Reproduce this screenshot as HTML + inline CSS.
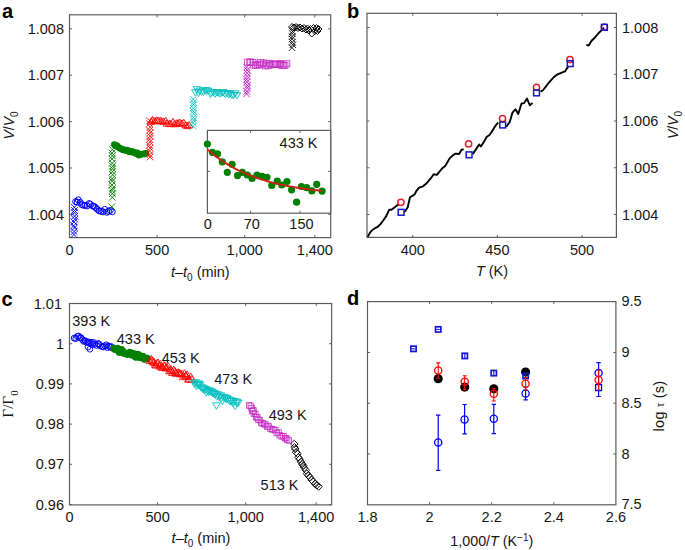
<!DOCTYPE html>
<html><head><meta charset="utf-8"><style>
html,body{margin:0;padding:0;background:#fff;}
svg{display:block;font-family:"Liberation Sans", sans-serif;}
</style></head><body>
<svg width="685" height="550" viewBox="0 0 685 550">
<rect width="685" height="550" fill="#fff"/>
<rect x="69.5" y="14.8" width="261.20" height="222.80" fill="none" stroke="#5c5c5c" stroke-width="1.2"/><path d="M157.11,237.6V235.1M157.11,14.8V17.3M244.71,237.6V235.1M244.71,14.8V17.3M314.79,237.6V235.1M314.79,14.8V17.3M69.5,214.40H72.0M330.7,214.40H328.2M69.5,168.00H72.0M330.7,168.00H328.2M69.5,121.60H72.0M330.7,121.60H328.2M69.5,75.20H72.0M330.7,75.20H328.2M69.5,28.80H72.0M330.7,28.80H328.2" stroke="#5c5c5c" stroke-width="1" fill="none"/>
<path d="M70.69,231.25L77.29,237.85M70.69,237.85L77.29,231.25" stroke="#0000ff" stroke-width="0.9" fill="none"/>
<path d="M70.84,228.27L77.44,234.87M70.84,234.87L77.44,228.27" stroke="#0000ff" stroke-width="0.9" fill="none"/>
<path d="M71.15,224.57L77.75,231.17M71.15,231.17L77.75,224.57" stroke="#0000ff" stroke-width="0.9" fill="none"/>
<path d="M70.42,222.44L77.02,229.04M70.42,229.04L77.02,222.44" stroke="#0000ff" stroke-width="0.9" fill="none"/>
<path d="M70.71,218.66L77.31,225.26M70.71,225.26L77.31,218.66" stroke="#0000ff" stroke-width="0.9" fill="none"/>
<path d="M71.59,215.89L78.19,222.49M71.59,222.49L78.19,215.89" stroke="#0000ff" stroke-width="0.9" fill="none"/>
<path d="M71.40,212.84L78.00,219.44M71.40,219.44L78.00,212.84" stroke="#0000ff" stroke-width="0.9" fill="none"/>
<path d="M71.17,209.39L77.77,215.99M71.17,215.99L77.77,209.39" stroke="#0000ff" stroke-width="0.9" fill="none"/>
<path d="M71.16,207.20L77.76,213.80M71.16,213.80L77.76,207.20" stroke="#0000ff" stroke-width="0.9" fill="none"/>
<path d="M71.03,203.99L77.63,210.59M71.03,210.59L77.63,203.99" stroke="#0000ff" stroke-width="0.9" fill="none"/>
<circle cx="75.64" cy="201.60" r="3.0" stroke="#0000ff" stroke-width="1.0" fill="none"/>
<circle cx="77.17" cy="202.12" r="3.0" stroke="#0000ff" stroke-width="1.0" fill="none"/>
<circle cx="78.27" cy="199.84" r="3.0" stroke="#0000ff" stroke-width="1.0" fill="none"/>
<circle cx="80.19" cy="202.43" r="3.0" stroke="#0000ff" stroke-width="1.0" fill="none"/>
<circle cx="81.72" cy="204.57" r="3.0" stroke="#0000ff" stroke-width="1.0" fill="none"/>
<circle cx="83.49" cy="205.32" r="3.0" stroke="#0000ff" stroke-width="1.0" fill="none"/>
<circle cx="85.07" cy="205.28" r="3.0" stroke="#0000ff" stroke-width="1.0" fill="none"/>
<circle cx="86.98" cy="205.90" r="3.0" stroke="#0000ff" stroke-width="1.0" fill="none"/>
<circle cx="89.18" cy="203.52" r="3.0" stroke="#0000ff" stroke-width="1.0" fill="none"/>
<circle cx="90.37" cy="204.42" r="3.0" stroke="#0000ff" stroke-width="1.0" fill="none"/>
<circle cx="92.71" cy="205.96" r="3.0" stroke="#0000ff" stroke-width="1.0" fill="none"/>
<circle cx="94.12" cy="206.37" r="3.0" stroke="#0000ff" stroke-width="1.0" fill="none"/>
<circle cx="95.65" cy="207.58" r="3.0" stroke="#0000ff" stroke-width="1.0" fill="none"/>
<circle cx="97.15" cy="209.15" r="3.0" stroke="#0000ff" stroke-width="1.0" fill="none"/>
<circle cx="99.08" cy="210.80" r="3.0" stroke="#0000ff" stroke-width="1.0" fill="none"/>
<circle cx="101.00" cy="211.24" r="3.0" stroke="#0000ff" stroke-width="1.0" fill="none"/>
<circle cx="102.98" cy="211.81" r="3.0" stroke="#0000ff" stroke-width="1.0" fill="none"/>
<circle cx="104.69" cy="209.44" r="3.0" stroke="#0000ff" stroke-width="1.0" fill="none"/>
<circle cx="106.70" cy="212.26" r="3.0" stroke="#0000ff" stroke-width="1.0" fill="none"/>
<circle cx="108.60" cy="211.26" r="3.0" stroke="#0000ff" stroke-width="1.0" fill="none"/>
<circle cx="110.31" cy="210.34" r="3.0" stroke="#0000ff" stroke-width="1.0" fill="none"/>
<circle cx="112.27" cy="211.74" r="3.0" stroke="#0000ff" stroke-width="1.0" fill="none"/>
<path d="M108.78,187.26L115.38,193.86M108.78,193.86L115.38,187.26" stroke="#008000" stroke-width="0.9" fill="none"/>
<path d="M109.35,185.04L115.95,191.64M109.35,191.64L115.95,185.04" stroke="#008000" stroke-width="0.9" fill="none"/>
<path d="M108.59,181.69L115.19,188.29M108.59,188.29L115.19,181.69" stroke="#008000" stroke-width="0.9" fill="none"/>
<path d="M108.91,177.89L115.51,184.49M108.91,184.49L115.51,177.89" stroke="#008000" stroke-width="0.9" fill="none"/>
<path d="M108.79,175.35L115.39,181.95M108.79,181.95L115.39,175.35" stroke="#008000" stroke-width="0.9" fill="none"/>
<path d="M109.37,171.47L115.97,178.07M109.37,178.07L115.97,171.47" stroke="#008000" stroke-width="0.9" fill="none"/>
<path d="M109.11,168.32L115.71,174.92M109.11,174.92L115.71,168.32" stroke="#008000" stroke-width="0.9" fill="none"/>
<path d="M109.22,165.45L115.82,172.05M109.22,172.05L115.82,165.45" stroke="#008000" stroke-width="0.9" fill="none"/>
<path d="M109.38,162.95L115.98,169.55M109.38,169.55L115.98,162.95" stroke="#008000" stroke-width="0.9" fill="none"/>
<path d="M109.01,159.81L115.61,166.41M109.01,166.41L115.61,159.81" stroke="#008000" stroke-width="0.9" fill="none"/>
<path d="M108.81,155.74L115.41,162.34M108.81,162.34L115.41,155.74" stroke="#008000" stroke-width="0.9" fill="none"/>
<path d="M109.10,152.54L115.70,159.14M109.10,159.14L115.70,152.54" stroke="#008000" stroke-width="0.9" fill="none"/>
<path d="M108.70,149.76L115.30,156.36M108.70,156.36L115.30,149.76" stroke="#008000" stroke-width="0.9" fill="none"/>
<path d="M109.11,146.36L115.71,152.96M109.11,152.96L115.71,146.36" stroke="#008000" stroke-width="0.9" fill="none"/>
<path d="M109.00,190.30L115.60,196.90M109.00,196.90L115.60,190.30" stroke="#008000" stroke-width="0.9" fill="none"/>
<path d="M109.00,194.00L115.60,200.60M109.00,200.60L115.60,194.00" stroke="#008000" stroke-width="0.9" fill="none"/>
<path d="M108.50,203.50L115.10,210.10M108.50,210.10L115.10,203.50" stroke="#008000" stroke-width="0.9" fill="none"/>
<circle cx="114.32" cy="144.54" r="3.3" fill="#008000"/>
<circle cx="115.48" cy="145.78" r="3.3" fill="#008000"/>
<circle cx="116.78" cy="145.67" r="3.3" fill="#008000"/>
<circle cx="117.80" cy="146.83" r="3.3" fill="#008000"/>
<circle cx="119.15" cy="147.76" r="3.3" fill="#008000"/>
<circle cx="120.41" cy="148.58" r="3.3" fill="#008000"/>
<circle cx="121.92" cy="148.98" r="3.3" fill="#008000"/>
<circle cx="123.07" cy="150.03" r="3.3" fill="#008000"/>
<circle cx="124.38" cy="149.75" r="3.3" fill="#008000"/>
<circle cx="126.11" cy="150.63" r="3.3" fill="#008000"/>
<circle cx="127.37" cy="150.05" r="3.3" fill="#008000"/>
<circle cx="128.75" cy="151.59" r="3.3" fill="#008000"/>
<circle cx="130.05" cy="152.03" r="3.3" fill="#008000"/>
<circle cx="131.75" cy="151.27" r="3.3" fill="#008000"/>
<circle cx="133.20" cy="152.41" r="3.3" fill="#008000"/>
<circle cx="134.69" cy="152.51" r="3.3" fill="#008000"/>
<circle cx="136.13" cy="153.70" r="3.3" fill="#008000"/>
<circle cx="137.25" cy="152.90" r="3.3" fill="#008000"/>
<circle cx="138.90" cy="155.25" r="3.3" fill="#008000"/>
<circle cx="140.13" cy="154.77" r="3.3" fill="#008000"/>
<circle cx="141.68" cy="154.29" r="3.3" fill="#008000"/>
<circle cx="143.01" cy="153.81" r="3.3" fill="#008000"/>
<circle cx="144.48" cy="154.08" r="3.3" fill="#008000"/>
<circle cx="145.92" cy="153.35" r="3.3" fill="#008000"/>
<path d="M146.77,153.73L153.37,160.33M146.77,160.33L153.37,153.73" stroke="#ff0000" stroke-width="0.85" fill="none"/>
<path d="M146.57,151.39L153.17,157.99M146.57,157.99L153.17,151.39" stroke="#ff0000" stroke-width="0.85" fill="none"/>
<path d="M146.31,147.84L152.91,154.44M146.31,154.44L152.91,147.84" stroke="#ff0000" stroke-width="0.85" fill="none"/>
<path d="M146.80,144.81L153.40,151.41M146.80,151.41L153.40,144.81" stroke="#ff0000" stroke-width="0.85" fill="none"/>
<path d="M146.19,141.97L152.79,148.57M146.19,148.57L152.79,141.97" stroke="#ff0000" stroke-width="0.85" fill="none"/>
<path d="M146.70,138.59L153.30,145.19M146.70,145.19L153.30,138.59" stroke="#ff0000" stroke-width="0.85" fill="none"/>
<path d="M146.32,135.78L152.92,142.38M146.32,142.38L152.92,135.78" stroke="#ff0000" stroke-width="0.85" fill="none"/>
<path d="M146.83,132.85L153.43,139.45M146.83,139.45L153.43,132.85" stroke="#ff0000" stroke-width="0.85" fill="none"/>
<path d="M146.86,129.54L153.46,136.14M146.86,136.14L153.46,129.54" stroke="#ff0000" stroke-width="0.85" fill="none"/>
<path d="M146.34,126.98L152.94,133.58M146.34,133.58L152.94,126.98" stroke="#ff0000" stroke-width="0.85" fill="none"/>
<path d="M146.88,123.73L153.48,130.33M146.88,130.33L153.48,123.73" stroke="#ff0000" stroke-width="0.85" fill="none"/>
<path d="M146.23,120.36L152.83,126.96M146.23,126.96L152.83,120.36" stroke="#ff0000" stroke-width="0.85" fill="none"/>
<path d="M146.53,117.39L153.13,123.99M146.53,123.99L153.13,117.39" stroke="#ff0000" stroke-width="0.85" fill="none"/>
<path d="M151.18,117.82L154.88,124.11L147.48,124.11Z" stroke="#ff0000" stroke-width="0.9" fill="none"/>
<path d="M152.62,116.34L156.32,122.63L148.92,122.63Z" stroke="#ff0000" stroke-width="0.9" fill="none"/>
<path d="M154.81,117.63L158.51,123.92L151.11,123.92Z" stroke="#ff0000" stroke-width="0.9" fill="none"/>
<path d="M156.62,116.94L160.32,123.23L152.92,123.23Z" stroke="#ff0000" stroke-width="0.9" fill="none"/>
<path d="M158.02,116.98L161.72,123.27L154.32,123.27Z" stroke="#ff0000" stroke-width="0.9" fill="none"/>
<path d="M160.23,117.12L163.93,123.41L156.53,123.41Z" stroke="#ff0000" stroke-width="0.9" fill="none"/>
<path d="M161.78,117.74L165.48,124.03L158.08,124.03Z" stroke="#ff0000" stroke-width="0.9" fill="none"/>
<path d="M163.64,117.90L167.34,124.19L159.94,124.19Z" stroke="#ff0000" stroke-width="0.9" fill="none"/>
<path d="M165.75,117.32L169.45,123.61L162.05,123.61Z" stroke="#ff0000" stroke-width="0.9" fill="none"/>
<path d="M167.01,119.86L170.71,126.15L163.31,126.15Z" stroke="#ff0000" stroke-width="0.9" fill="none"/>
<path d="M169.35,120.17L173.05,126.46L165.65,126.46Z" stroke="#ff0000" stroke-width="0.9" fill="none"/>
<path d="M170.89,120.29L174.59,126.58L167.19,126.58Z" stroke="#ff0000" stroke-width="0.9" fill="none"/>
<path d="M172.99,118.38L176.69,124.67L169.29,124.67Z" stroke="#ff0000" stroke-width="0.9" fill="none"/>
<path d="M174.68,120.49L178.38,126.78L170.98,126.78Z" stroke="#ff0000" stroke-width="0.9" fill="none"/>
<path d="M176.44,119.81L180.14,126.10L172.74,126.10Z" stroke="#ff0000" stroke-width="0.9" fill="none"/>
<path d="M178.01,119.54L181.71,125.83L174.31,125.83Z" stroke="#ff0000" stroke-width="0.9" fill="none"/>
<path d="M179.78,119.00L183.48,125.29L176.08,125.29Z" stroke="#ff0000" stroke-width="0.9" fill="none"/>
<path d="M181.81,119.86L185.51,126.15L178.11,126.15Z" stroke="#ff0000" stroke-width="0.9" fill="none"/>
<path d="M183.75,119.33L187.45,125.62L180.05,125.62Z" stroke="#ff0000" stroke-width="0.9" fill="none"/>
<path d="M185.62,121.48L189.32,127.77L181.92,127.77Z" stroke="#ff0000" stroke-width="0.9" fill="none"/>
<path d="M187.44,122.29L191.14,128.58L183.74,128.58Z" stroke="#ff0000" stroke-width="0.9" fill="none"/>
<path d="M189.24,121.53L192.94,127.82L185.54,127.82Z" stroke="#ff0000" stroke-width="0.9" fill="none"/>
<path d="M189.71,122.95L196.31,129.55M189.71,129.55L196.31,122.95" stroke="#00bfbf" stroke-width="0.85" fill="none"/>
<path d="M189.87,119.50L196.47,126.10M189.87,126.10L196.47,119.50" stroke="#00bfbf" stroke-width="0.85" fill="none"/>
<path d="M190.36,116.72L196.96,123.32M190.36,123.32L196.96,116.72" stroke="#00bfbf" stroke-width="0.85" fill="none"/>
<path d="M190.11,114.14L196.71,120.74M190.11,120.74L196.71,114.14" stroke="#00bfbf" stroke-width="0.85" fill="none"/>
<path d="M190.31,110.54L196.91,117.14M190.31,117.14L196.91,110.54" stroke="#00bfbf" stroke-width="0.85" fill="none"/>
<path d="M189.95,108.06L196.55,114.66M189.95,114.66L196.55,108.06" stroke="#00bfbf" stroke-width="0.85" fill="none"/>
<path d="M190.18,104.98L196.78,111.58M190.18,111.58L196.78,104.98" stroke="#00bfbf" stroke-width="0.85" fill="none"/>
<path d="M190.05,101.40L196.65,108.00M190.05,108.00L196.65,101.40" stroke="#00bfbf" stroke-width="0.85" fill="none"/>
<path d="M190.23,99.02L196.83,105.62M190.23,105.62L196.83,99.02" stroke="#00bfbf" stroke-width="0.85" fill="none"/>
<path d="M189.87,95.99L196.47,102.59M189.87,102.59L196.47,95.99" stroke="#00bfbf" stroke-width="0.85" fill="none"/>
<path d="M195.34,95.92L199.04,89.63L191.64,89.63Z" stroke="#00bfbf" stroke-width="0.85" fill="none"/>
<path d="M196.94,92.90L200.64,86.61L193.24,86.61Z" stroke="#00bfbf" stroke-width="0.85" fill="none"/>
<path d="M198.46,96.49L202.16,90.20L194.76,90.20Z" stroke="#00bfbf" stroke-width="0.85" fill="none"/>
<path d="M199.67,94.29L203.37,88.00L195.97,88.00Z" stroke="#00bfbf" stroke-width="0.85" fill="none"/>
<path d="M201.53,95.48L205.23,89.19L197.83,89.19Z" stroke="#00bfbf" stroke-width="0.85" fill="none"/>
<path d="M203.33,95.43L207.03,89.14L199.63,89.14Z" stroke="#00bfbf" stroke-width="0.85" fill="none"/>
<path d="M205.29,93.71L208.99,87.42L201.59,87.42Z" stroke="#00bfbf" stroke-width="0.85" fill="none"/>
<path d="M206.39,94.38L210.09,88.09L202.69,88.09Z" stroke="#00bfbf" stroke-width="0.85" fill="none"/>
<path d="M208.12,94.32L211.82,88.03L204.42,88.03Z" stroke="#00bfbf" stroke-width="0.85" fill="none"/>
<path d="M210.48,97.63L214.18,91.34L206.78,91.34Z" stroke="#00bfbf" stroke-width="0.85" fill="none"/>
<path d="M211.45,96.39L215.15,90.10L207.75,90.10Z" stroke="#00bfbf" stroke-width="0.85" fill="none"/>
<path d="M213.31,95.80L217.01,89.51L209.61,89.51Z" stroke="#00bfbf" stroke-width="0.85" fill="none"/>
<path d="M215.01,97.29L218.71,91.00L211.31,91.00Z" stroke="#00bfbf" stroke-width="0.85" fill="none"/>
<path d="M216.89,96.23L220.59,89.94L213.19,89.94Z" stroke="#00bfbf" stroke-width="0.85" fill="none"/>
<path d="M218.25,96.19L221.95,89.90L214.55,89.90Z" stroke="#00bfbf" stroke-width="0.85" fill="none"/>
<path d="M219.89,97.18L223.59,90.89L216.19,90.89Z" stroke="#00bfbf" stroke-width="0.85" fill="none"/>
<path d="M222.04,96.56L225.74,90.27L218.34,90.27Z" stroke="#00bfbf" stroke-width="0.85" fill="none"/>
<path d="M223.22,95.84L226.92,89.55L219.52,89.55Z" stroke="#00bfbf" stroke-width="0.85" fill="none"/>
<path d="M225.14,97.64L228.84,91.35L221.44,91.35Z" stroke="#00bfbf" stroke-width="0.85" fill="none"/>
<path d="M227.14,96.88L230.84,90.59L223.44,90.59Z" stroke="#00bfbf" stroke-width="0.85" fill="none"/>
<path d="M228.84,97.99L232.54,91.70L225.14,91.70Z" stroke="#00bfbf" stroke-width="0.85" fill="none"/>
<path d="M230.22,97.13L233.92,90.84L226.52,90.84Z" stroke="#00bfbf" stroke-width="0.85" fill="none"/>
<path d="M231.96,98.59L235.66,92.30L228.26,92.30Z" stroke="#00bfbf" stroke-width="0.85" fill="none"/>
<path d="M233.58,98.70L237.28,92.41L229.88,92.41Z" stroke="#00bfbf" stroke-width="0.85" fill="none"/>
<path d="M235.29,97.04L238.99,90.75L231.59,90.75Z" stroke="#00bfbf" stroke-width="0.85" fill="none"/>
<path d="M237.03,98.98L240.73,92.69L233.33,92.69Z" stroke="#00bfbf" stroke-width="0.85" fill="none"/>
<path d="M243.27,90.62L249.87,97.22M243.27,97.22L249.87,90.62" stroke="#bf00bf" stroke-width="0.85" fill="none"/>
<path d="M243.63,88.08L250.23,94.68M243.63,94.68L250.23,88.08" stroke="#bf00bf" stroke-width="0.85" fill="none"/>
<path d="M244.14,84.57L250.74,91.17M244.14,91.17L250.74,84.57" stroke="#bf00bf" stroke-width="0.85" fill="none"/>
<path d="M244.10,81.99L250.70,88.59M244.10,88.59L250.70,81.99" stroke="#bf00bf" stroke-width="0.85" fill="none"/>
<path d="M243.46,78.66L250.06,85.26M243.46,85.26L250.06,78.66" stroke="#bf00bf" stroke-width="0.85" fill="none"/>
<path d="M243.32,76.01L249.92,82.61M243.32,82.61L249.92,76.01" stroke="#bf00bf" stroke-width="0.85" fill="none"/>
<path d="M243.86,73.09L250.46,79.69M243.86,79.69L250.46,73.09" stroke="#bf00bf" stroke-width="0.85" fill="none"/>
<path d="M243.99,69.87L250.59,76.47M243.99,76.47L250.59,69.87" stroke="#bf00bf" stroke-width="0.85" fill="none"/>
<path d="M243.93,66.76L250.53,73.36M243.93,73.36L250.53,66.76" stroke="#bf00bf" stroke-width="0.85" fill="none"/>
<path d="M243.30,63.79L249.90,70.39M243.30,70.39L249.90,63.79" stroke="#bf00bf" stroke-width="0.85" fill="none"/>
<rect x="244.60" y="59.22" width="6.0" height="6.0" stroke="#c42cc4" stroke-width="0.8" fill="none"/>
<rect x="246.76" y="58.94" width="6.0" height="6.0" stroke="#c42cc4" stroke-width="0.8" fill="none"/>
<rect x="247.75" y="59.21" width="6.0" height="6.0" stroke="#c42cc4" stroke-width="0.8" fill="none"/>
<rect x="249.92" y="59.58" width="6.0" height="6.0" stroke="#c42cc4" stroke-width="0.8" fill="none"/>
<rect x="250.78" y="62.04" width="6.0" height="6.0" stroke="#c42cc4" stroke-width="0.8" fill="none"/>
<rect x="252.40" y="62.12" width="6.0" height="6.0" stroke="#c42cc4" stroke-width="0.8" fill="none"/>
<rect x="254.38" y="62.17" width="6.0" height="6.0" stroke="#c42cc4" stroke-width="0.8" fill="none"/>
<rect x="256.14" y="61.32" width="6.0" height="6.0" stroke="#c42cc4" stroke-width="0.8" fill="none"/>
<rect x="257.56" y="59.45" width="6.0" height="6.0" stroke="#c42cc4" stroke-width="0.8" fill="none"/>
<rect x="259.07" y="61.23" width="6.0" height="6.0" stroke="#c42cc4" stroke-width="0.8" fill="none"/>
<rect x="260.57" y="59.85" width="6.0" height="6.0" stroke="#c42cc4" stroke-width="0.8" fill="none"/>
<rect x="262.14" y="62.91" width="6.0" height="6.0" stroke="#c42cc4" stroke-width="0.8" fill="none"/>
<rect x="263.12" y="60.79" width="6.0" height="6.0" stroke="#c42cc4" stroke-width="0.8" fill="none"/>
<rect x="265.07" y="62.68" width="6.0" height="6.0" stroke="#c42cc4" stroke-width="0.8" fill="none"/>
<rect x="266.35" y="60.35" width="6.0" height="6.0" stroke="#c42cc4" stroke-width="0.8" fill="none"/>
<rect x="267.90" y="61.92" width="6.0" height="6.0" stroke="#c42cc4" stroke-width="0.8" fill="none"/>
<rect x="269.84" y="61.12" width="6.0" height="6.0" stroke="#c42cc4" stroke-width="0.8" fill="none"/>
<rect x="271.08" y="61.13" width="6.0" height="6.0" stroke="#c42cc4" stroke-width="0.8" fill="none"/>
<rect x="272.60" y="61.21" width="6.0" height="6.0" stroke="#c42cc4" stroke-width="0.8" fill="none"/>
<rect x="273.93" y="61.50" width="6.0" height="6.0" stroke="#c42cc4" stroke-width="0.8" fill="none"/>
<rect x="276.18" y="61.23" width="6.0" height="6.0" stroke="#c42cc4" stroke-width="0.8" fill="none"/>
<rect x="277.54" y="60.42" width="6.0" height="6.0" stroke="#c42cc4" stroke-width="0.8" fill="none"/>
<rect x="279.04" y="62.65" width="6.0" height="6.0" stroke="#c42cc4" stroke-width="0.8" fill="none"/>
<rect x="280.56" y="61.88" width="6.0" height="6.0" stroke="#c42cc4" stroke-width="0.8" fill="none"/>
<rect x="281.95" y="62.42" width="6.0" height="6.0" stroke="#c42cc4" stroke-width="0.8" fill="none"/>
<rect x="283.82" y="60.74" width="6.0" height="6.0" stroke="#c42cc4" stroke-width="0.8" fill="none"/>
<path d="M288.70,44.45L295.30,51.05M288.70,51.05L295.30,44.45" stroke="#000000" stroke-width="0.85" fill="none"/>
<path d="M289.52,41.47L296.12,48.07M289.52,48.07L296.12,41.47" stroke="#000000" stroke-width="0.85" fill="none"/>
<path d="M289.04,38.92L295.64,45.52M289.04,45.52L295.64,38.92" stroke="#000000" stroke-width="0.85" fill="none"/>
<path d="M288.79,35.72L295.39,42.32M288.79,42.32L295.39,35.72" stroke="#000000" stroke-width="0.85" fill="none"/>
<path d="M288.80,33.29L295.40,39.89M288.80,39.89L295.40,33.29" stroke="#000000" stroke-width="0.85" fill="none"/>
<path d="M288.91,30.18L295.51,36.78M288.91,36.78L295.51,30.18" stroke="#000000" stroke-width="0.85" fill="none"/>
<path d="M289.29,28.15L295.89,34.75M289.29,34.75L295.89,28.15" stroke="#000000" stroke-width="0.85" fill="none"/>
<path d="M292.00,23.50L295.50,27.00L292.00,30.50L288.50,27.00Z" stroke="#000000" stroke-width="0.95" fill="none"/>
<path d="M294.00,24.00L297.50,27.50L294.00,31.00L290.50,27.50Z" stroke="#000000" stroke-width="0.95" fill="none"/>
<path d="M296.00,23.50L299.50,27.00L296.00,30.50L292.50,27.00Z" stroke="#000000" stroke-width="0.95" fill="none"/>
<path d="M298.00,24.50L301.50,28.00L298.00,31.50L294.50,28.00Z" stroke="#000000" stroke-width="0.95" fill="none"/>
<path d="M300.00,24.00L303.50,27.50L300.00,31.00L296.50,27.50Z" stroke="#000000" stroke-width="0.95" fill="none"/>
<path d="M302.00,25.00L305.50,28.50L302.00,32.00L298.50,28.50Z" stroke="#000000" stroke-width="0.95" fill="none"/>
<path d="M304.00,24.50L307.50,28.00L304.00,31.50L300.50,28.00Z" stroke="#000000" stroke-width="0.95" fill="none"/>
<path d="M306.00,26.00L309.50,29.50L306.00,33.00L302.50,29.50Z" stroke="#000000" stroke-width="0.95" fill="none"/>
<path d="M307.50,25.00L311.00,28.50L307.50,32.00L304.00,28.50Z" stroke="#000000" stroke-width="0.95" fill="none"/>
<path d="M309.00,27.00L312.50,30.50L309.00,34.00L305.50,30.50Z" stroke="#000000" stroke-width="0.95" fill="none"/>
<path d="M310.50,25.50L314.00,29.00L310.50,32.50L307.00,29.00Z" stroke="#000000" stroke-width="0.95" fill="none"/>
<path d="M311.80,30.00L315.30,33.50L311.80,37.00L308.30,33.50Z" stroke="#000000" stroke-width="0.95" fill="none"/>
<path d="M313.50,24.50L317.00,28.00L313.50,31.50L310.00,28.00Z" stroke="#000000" stroke-width="0.95" fill="none"/>
<path d="M315.00,27.50L318.50,31.00L315.00,34.50L311.50,31.00Z" stroke="#000000" stroke-width="0.95" fill="none"/>
<path d="M316.50,24.50L320.00,28.00L316.50,31.50L313.00,28.00Z" stroke="#000000" stroke-width="0.95" fill="none"/>
<path d="M317.50,27.50L321.00,31.00L317.50,34.50L314.00,31.00Z" stroke="#000000" stroke-width="0.95" fill="none"/>
<path d="M318.50,25.50L322.00,29.00L318.50,32.50L315.00,29.00Z" stroke="#000000" stroke-width="0.95" fill="none"/>
<rect x="207.4" y="130.4" width="123.30" height="82.80" fill="#fff" stroke="#5c5c5c" stroke-width="1.2"/>
<path d="M250.60,213.2V210.7M250.60,130.4V132.9M299.97,213.2V210.7M299.97,130.4V132.9M207.4,171.3H209.9M330.7,171.3H328.2" stroke="#5c5c5c" stroke-width="1" fill="none"/>
<circle cx="207.40" cy="144.00" r="3.6" fill="#008000"/>
<circle cx="212.40" cy="152.30" r="3.6" fill="#008000"/>
<circle cx="217.50" cy="153.80" r="3.6" fill="#008000"/>
<circle cx="222.30" cy="161.90" r="3.6" fill="#008000"/>
<circle cx="232.10" cy="164.30" r="3.6" fill="#008000"/>
<circle cx="227.30" cy="172.30" r="3.6" fill="#008000"/>
<circle cx="237.50" cy="175.60" r="3.6" fill="#008000"/>
<circle cx="242.30" cy="172.30" r="3.6" fill="#008000"/>
<circle cx="247.30" cy="175.00" r="3.6" fill="#008000"/>
<circle cx="252.10" cy="178.40" r="3.6" fill="#008000"/>
<circle cx="257.10" cy="175.00" r="3.6" fill="#008000"/>
<circle cx="262.20" cy="176.30" r="3.6" fill="#008000"/>
<circle cx="267.00" cy="177.30" r="3.6" fill="#008000"/>
<circle cx="271.80" cy="185.40" r="3.6" fill="#008000"/>
<circle cx="277.20" cy="181.10" r="3.6" fill="#008000"/>
<circle cx="281.80" cy="185.00" r="3.6" fill="#008000"/>
<circle cx="287.00" cy="181.50" r="3.6" fill="#008000"/>
<circle cx="291.60" cy="189.80" r="3.6" fill="#008000"/>
<circle cx="296.60" cy="202.20" r="3.6" fill="#008000"/>
<circle cx="301.40" cy="186.50" r="3.6" fill="#008000"/>
<circle cx="306.60" cy="187.60" r="3.6" fill="#008000"/>
<circle cx="311.90" cy="190.90" r="3.6" fill="#008000"/>
<circle cx="316.70" cy="184.30" r="3.6" fill="#008000"/>
<circle cx="322.10" cy="191.10" r="3.6" fill="#008000"/>
<polyline points="207.40,149.40 209.31,151.07 211.23,152.69 213.14,154.24 215.05,155.74 216.97,157.18 218.88,158.58 220.79,159.92 222.70,161.22 224.62,162.47 226.53,163.67 228.44,164.83 230.36,165.95 232.27,167.03 234.18,168.07 236.10,169.08 238.01,170.04 239.92,170.98 241.83,171.88 243.75,172.75 245.66,173.58 247.57,174.39 249.49,175.17 251.40,175.92 253.31,176.64 255.23,177.34 257.14,178.01 259.05,178.66 260.96,179.28 262.88,179.88 264.79,180.46 266.70,181.02 268.62,181.56 270.53,182.08 272.44,182.59 274.36,183.07 276.27,183.54 278.18,183.99 280.09,184.42 282.01,184.84 283.92,185.24 285.83,185.63 287.75,186.01 289.66,186.37 291.57,186.72 293.49,187.05 295.40,187.38 297.31,187.69 299.22,187.99 301.14,188.28 303.05,188.56 304.96,188.83 306.88,189.09 308.79,189.34 310.70,189.58 312.62,189.82 314.53,190.04 316.44,190.26 318.35,190.47 320.27,190.67 322.18,190.86" fill="none" stroke="#cc2214" stroke-width="1.9"/>
<text x="207.80" y="228.80" font-size="14.5" text-anchor="middle" fill="#161616" >0</text>
<text x="251.80" y="228.80" font-size="14.5" text-anchor="middle" fill="#161616" >70</text>
<text x="301.47" y="228.80" font-size="14.5" text-anchor="middle" fill="#161616" >150</text>
<text x="317.50" y="147.90" font-size="14.5" text-anchor="end" fill="#161616" >433 K</text>
<text x="64.00" y="219.50" font-size="14.5" text-anchor="end" fill="#161616" >1.004</text>
<text x="64.00" y="173.10" font-size="14.5" text-anchor="end" fill="#161616" >1.005</text>
<text x="64.00" y="126.70" font-size="14.5" text-anchor="end" fill="#161616" >1.006</text>
<text x="64.00" y="80.30" font-size="14.5" text-anchor="end" fill="#161616" >1.007</text>
<text x="64.00" y="33.90" font-size="14.5" text-anchor="end" fill="#161616" >1.008</text>
<text x="69.50" y="255.20" font-size="14.5" text-anchor="middle" fill="#161616" >0</text>
<text x="157.11" y="255.20" font-size="14.5" text-anchor="middle" fill="#161616" >500</text>
<text x="244.71" y="255.20" font-size="14.5" text-anchor="middle" fill="#161616" >1,000</text>
<text x="314.79" y="255.20" font-size="14.5" text-anchor="middle" fill="#161616" >1,400</text>
<text x="200.3" y="276.5" font-size="14.5" text-anchor="middle" fill="#161616"><tspan font-style="italic">t</tspan>–<tspan font-style="italic">t</tspan><tspan font-size="10" dy="4">0</tspan><tspan dy="-4"> (min)</tspan></text>
<text transform="translate(14.2,125.5) rotate(-90)" font-size="14" text-anchor="middle" fill="#161616"><tspan font-style="italic">V</tspan>/<tspan font-style="italic">V</tspan><tspan font-size="10" dy="4">0</tspan></text>
<text x="2" y="17.6" font-size="20" font-weight="bold" fill="#000">a</text>
<rect x="367.0" y="13.3" width="249.40" height="224.10" fill="none" stroke="#5c5c5c" stroke-width="1.2"/><path d="M412.80,237.4V234.9M412.80,13.3V15.8M497.40,237.4V234.9M497.40,13.3V15.8M582.00,237.4V234.9M582.00,13.3V15.8M367.0,214.50H369.5M616.4,214.50H613.9M367.0,167.75H369.5M616.4,167.75H613.9M367.0,121.00H369.5M616.4,121.00H613.9M367.0,74.25H369.5M616.4,74.25H613.9M367.0,27.50H369.5M616.4,27.50H613.9" stroke="#5c5c5c" stroke-width="1" fill="none"/>
<polyline points="367.7,236.8 370,232.7 372.3,230 375,228.2 377.7,226.8 380.5,224.1 383.2,220.5 386.4,215.9 389.1,209.8 391.4,209.8 394.1,207.7 396.4,205.9 398.5,204.5" fill="none" stroke="#000" stroke-width="1.9" stroke-linejoin="round"/>
<polyline points="404.1,211.8 405.1,211.2 407.7,207.3 410,197.3 412.3,195.9 414.5,194.5 416.5,190.8 419.1,187.6 422.9,186.3 426.7,183.2 430.5,178.7 433.7,174.3 436.9,174.9 442,168.5 445.2,166 449.6,158.4 452.7,155.5 455.5,153.6 459.1,154 461.4,150 463.6,149.1" fill="none" stroke="#000" stroke-width="1.9" stroke-linejoin="round"/>
<polyline points="472.7,154.1 476.4,148.6 479.1,144.5 480.9,146.4 484.1,141.4 486.8,136.8 489.5,135 491.8,131.8 495,126.4 496.8,124.1 498.2,122.7" fill="none" stroke="#000" stroke-width="1.9" stroke-linejoin="round"/>
<polyline points="506.3,126.7 509.9,121.6 512.5,112.5 515.4,109.3 518.3,114 521.5,103.5 524.1,103.1 527,98.6 529.9,105.3 532.5,103.1" fill="none" stroke="#000" stroke-width="1.9" stroke-linejoin="round"/>
<polyline points="540.5,91.8 543.2,90 546.4,85.9 549.5,81.8 553.6,77.3 557.3,74.5 561.8,72.7 565,71.4 566.8,68.6 568.2,66.8" fill="none" stroke="#000" stroke-width="1.9" stroke-linejoin="round"/>
<polyline points="586.3,44.9 588.7,45.5 591.6,40.7 595.2,37.2 598.7,33 601.7,30.1 604.1,27.7" fill="none" stroke="#000" stroke-width="1.9" stroke-linejoin="round"/>
<circle cx="400.90" cy="202.30" r="3.1" stroke="#e41e26" stroke-width="1.5" fill="none"/>
<circle cx="468.60" cy="143.90" r="3.1" stroke="#e41e26" stroke-width="1.5" fill="none"/>
<circle cx="502.50" cy="118.60" r="3.1" stroke="#e41e26" stroke-width="1.5" fill="none"/>
<circle cx="536.50" cy="87.30" r="3.1" stroke="#e41e26" stroke-width="1.5" fill="none"/>
<circle cx="570.00" cy="59.60" r="3.1" stroke="#e41e26" stroke-width="1.5" fill="none"/>
<circle cx="604.40" cy="27.10" r="3.1" stroke="#e41e26" stroke-width="1.5" fill="none"/>
<rect x="398.20" y="209.40" width="5.8" height="5.8" stroke="#1414d2" stroke-width="1.5" fill="none"/>
<rect x="466.20" y="151.90" width="5.8" height="5.8" stroke="#1414d2" stroke-width="1.5" fill="none"/>
<rect x="499.80" y="122.10" width="5.8" height="5.8" stroke="#1414d2" stroke-width="1.5" fill="none"/>
<rect x="533.60" y="90.00" width="5.8" height="5.8" stroke="#1414d2" stroke-width="1.5" fill="none"/>
<rect x="567.30" y="60.70" width="5.8" height="5.8" stroke="#1414d2" stroke-width="1.5" fill="none"/>
<rect x="601.50" y="24.40" width="5.8" height="5.8" stroke="#1414d2" stroke-width="1.5" fill="none"/>
<text x="622.00" y="219.60" font-size="14.5" text-anchor="start" fill="#161616" >1.004</text>
<text x="622.00" y="172.85" font-size="14.5" text-anchor="start" fill="#161616" >1.005</text>
<text x="622.00" y="126.10" font-size="14.5" text-anchor="start" fill="#161616" >1.006</text>
<text x="622.00" y="79.35" font-size="14.5" text-anchor="start" fill="#161616" >1.007</text>
<text x="622.00" y="32.60" font-size="14.5" text-anchor="start" fill="#161616" >1.008</text>
<text x="412.80" y="255.20" font-size="14.5" text-anchor="middle" fill="#161616" >400</text>
<text x="497.40" y="255.20" font-size="14.5" text-anchor="middle" fill="#161616" >450</text>
<text x="582.00" y="255.20" font-size="14.5" text-anchor="middle" fill="#161616" >500</text>
<text x="492" y="276" font-size="14.5" text-anchor="middle" fill="#161616"><tspan font-style="italic">T</tspan> (K)</text>
<text transform="translate(677.7,125) rotate(-90)" font-size="14" text-anchor="middle" fill="#161616"><tspan font-style="italic">V</tspan>/<tspan font-style="italic">V</tspan><tspan font-size="10" dy="4">0</tspan></text>
<text x="347" y="18" font-size="20" font-weight="bold" fill="#000">b</text>
<rect x="69.5" y="303.5" width="262.10" height="201.40" fill="none" stroke="#5c5c5c" stroke-width="1.2"/><path d="M157.61,504.9V502.4M157.61,303.5V306.0M245.71,504.9V502.4M245.71,303.5V306.0M316.19,504.9V502.4M316.19,303.5V306.0M69.5,504.50H72.0M331.6,504.50H329.1M69.5,464.30H72.0M331.6,464.30H329.1M69.5,424.10H72.0M331.6,424.10H329.1M69.5,383.90H72.0M331.6,383.90H329.1M69.5,343.70H72.0M331.6,343.70H329.1M69.5,303.50H72.0M331.6,303.50H329.1" stroke="#5c5c5c" stroke-width="1" fill="none"/>
<circle cx="74.30" cy="338.12" r="3.0" stroke="#0000ff" stroke-width="1.0" fill="none"/>
<circle cx="75.86" cy="338.44" r="3.0" stroke="#0000ff" stroke-width="1.0" fill="none"/>
<circle cx="77.48" cy="336.55" r="3.0" stroke="#0000ff" stroke-width="1.0" fill="none"/>
<circle cx="78.51" cy="336.05" r="3.0" stroke="#0000ff" stroke-width="1.0" fill="none"/>
<circle cx="80.15" cy="337.61" r="3.0" stroke="#0000ff" stroke-width="1.0" fill="none"/>
<circle cx="81.21" cy="338.02" r="3.0" stroke="#0000ff" stroke-width="1.0" fill="none"/>
<circle cx="82.65" cy="339.92" r="3.0" stroke="#0000ff" stroke-width="1.0" fill="none"/>
<circle cx="83.72" cy="341.32" r="3.0" stroke="#0000ff" stroke-width="1.0" fill="none"/>
<circle cx="85.30" cy="340.89" r="3.0" stroke="#0000ff" stroke-width="1.0" fill="none"/>
<circle cx="86.58" cy="342.25" r="3.0" stroke="#0000ff" stroke-width="1.0" fill="none"/>
<circle cx="88.28" cy="341.95" r="3.0" stroke="#0000ff" stroke-width="1.0" fill="none"/>
<circle cx="89.29" cy="342.98" r="3.0" stroke="#0000ff" stroke-width="1.0" fill="none"/>
<circle cx="91.05" cy="342.44" r="3.0" stroke="#0000ff" stroke-width="1.0" fill="none"/>
<circle cx="92.35" cy="344.40" r="3.0" stroke="#0000ff" stroke-width="1.0" fill="none"/>
<circle cx="93.51" cy="342.50" r="3.0" stroke="#0000ff" stroke-width="1.0" fill="none"/>
<circle cx="94.70" cy="344.25" r="3.0" stroke="#0000ff" stroke-width="1.0" fill="none"/>
<circle cx="96.54" cy="345.36" r="3.0" stroke="#0000ff" stroke-width="1.0" fill="none"/>
<circle cx="98.12" cy="343.60" r="3.0" stroke="#0000ff" stroke-width="1.0" fill="none"/>
<circle cx="98.85" cy="344.04" r="3.0" stroke="#0000ff" stroke-width="1.0" fill="none"/>
<circle cx="100.26" cy="345.73" r="3.0" stroke="#0000ff" stroke-width="1.0" fill="none"/>
<circle cx="102.35" cy="346.60" r="3.0" stroke="#0000ff" stroke-width="1.0" fill="none"/>
<circle cx="103.17" cy="346.78" r="3.0" stroke="#0000ff" stroke-width="1.0" fill="none"/>
<circle cx="104.66" cy="345.74" r="3.0" stroke="#0000ff" stroke-width="1.0" fill="none"/>
<circle cx="106.51" cy="344.96" r="3.0" stroke="#0000ff" stroke-width="1.0" fill="none"/>
<circle cx="107.30" cy="347.44" r="3.0" stroke="#0000ff" stroke-width="1.0" fill="none"/>
<circle cx="108.94" cy="346.23" r="3.0" stroke="#0000ff" stroke-width="1.0" fill="none"/>
<circle cx="110.66" cy="347.44" r="3.0" stroke="#0000ff" stroke-width="1.0" fill="none"/>
<circle cx="111.51" cy="346.70" r="3.0" stroke="#0000ff" stroke-width="1.0" fill="none"/>
<circle cx="89.90" cy="349.20" r="2.9" stroke="#0000ff" stroke-width="0.9" fill="none"/>
<circle cx="88.00" cy="347.00" r="2.9" stroke="#0000ff" stroke-width="0.9" fill="none"/>
<circle cx="113.95" cy="348.44" r="3.6" fill="#008000"/>
<circle cx="114.95" cy="349.33" r="3.6" fill="#008000"/>
<circle cx="116.73" cy="349.05" r="3.6" fill="#008000"/>
<circle cx="117.59" cy="348.46" r="3.6" fill="#008000"/>
<circle cx="118.56" cy="351.14" r="3.6" fill="#008000"/>
<circle cx="119.62" cy="352.52" r="3.6" fill="#008000"/>
<circle cx="121.48" cy="349.72" r="3.6" fill="#008000"/>
<circle cx="122.74" cy="351.18" r="3.6" fill="#008000"/>
<circle cx="123.84" cy="353.07" r="3.6" fill="#008000"/>
<circle cx="124.70" cy="353.09" r="3.6" fill="#008000"/>
<circle cx="126.22" cy="353.97" r="3.6" fill="#008000"/>
<circle cx="127.14" cy="354.11" r="3.6" fill="#008000"/>
<circle cx="128.93" cy="354.14" r="3.6" fill="#008000"/>
<circle cx="129.83" cy="352.25" r="3.6" fill="#008000"/>
<circle cx="131.03" cy="353.56" r="3.6" fill="#008000"/>
<circle cx="132.44" cy="355.22" r="3.6" fill="#008000"/>
<circle cx="133.55" cy="353.59" r="3.6" fill="#008000"/>
<circle cx="134.85" cy="355.73" r="3.6" fill="#008000"/>
<circle cx="135.71" cy="357.12" r="3.6" fill="#008000"/>
<circle cx="137.33" cy="354.41" r="3.6" fill="#008000"/>
<circle cx="138.79" cy="354.83" r="3.6" fill="#008000"/>
<circle cx="139.54" cy="357.50" r="3.6" fill="#008000"/>
<circle cx="140.99" cy="357.19" r="3.6" fill="#008000"/>
<circle cx="142.25" cy="357.21" r="3.6" fill="#008000"/>
<circle cx="143.20" cy="356.49" r="3.6" fill="#008000"/>
<circle cx="144.22" cy="359.05" r="3.6" fill="#008000"/>
<circle cx="145.99" cy="358.77" r="3.6" fill="#008000"/>
<circle cx="147.19" cy="358.44" r="3.6" fill="#008000"/>
<path d="M149.77,356.49L153.77,363.29L145.77,363.29Z" stroke="#ff0000" stroke-width="0.8" fill="none"/>
<path d="M151.44,355.45L155.44,362.25L147.44,362.25Z" stroke="#ff0000" stroke-width="0.8" fill="none"/>
<path d="M152.13,356.82L156.13,363.62L148.13,363.62Z" stroke="#ff0000" stroke-width="0.8" fill="none"/>
<path d="M153.46,357.75L157.46,364.55L149.46,364.55Z" stroke="#ff0000" stroke-width="0.8" fill="none"/>
<path d="M154.09,358.44L158.09,365.24L150.09,365.24Z" stroke="#ff0000" stroke-width="0.8" fill="none"/>
<path d="M155.36,360.52L159.36,367.32L151.36,367.32Z" stroke="#ff0000" stroke-width="0.8" fill="none"/>
<path d="M156.23,361.32L160.23,368.12L152.23,368.12Z" stroke="#ff0000" stroke-width="0.8" fill="none"/>
<path d="M157.06,359.25L161.06,366.05L153.06,366.05Z" stroke="#ff0000" stroke-width="0.8" fill="none"/>
<path d="M158.11,359.01L162.11,365.81L154.11,365.81Z" stroke="#ff0000" stroke-width="0.8" fill="none"/>
<path d="M159.86,362.18L163.86,368.98L155.86,368.98Z" stroke="#ff0000" stroke-width="0.8" fill="none"/>
<path d="M160.33,360.27L164.33,367.07L156.33,367.07Z" stroke="#ff0000" stroke-width="0.8" fill="none"/>
<path d="M161.63,363.16L165.63,369.96L157.63,369.96Z" stroke="#ff0000" stroke-width="0.8" fill="none"/>
<path d="M163.09,363.64L167.09,370.44L159.09,370.44Z" stroke="#ff0000" stroke-width="0.8" fill="none"/>
<path d="M163.94,361.45L167.94,368.25L159.94,368.25Z" stroke="#ff0000" stroke-width="0.8" fill="none"/>
<path d="M164.81,362.11L168.81,368.91L160.81,368.91Z" stroke="#ff0000" stroke-width="0.8" fill="none"/>
<path d="M166.01,364.22L170.01,371.02L162.01,371.02Z" stroke="#ff0000" stroke-width="0.8" fill="none"/>
<path d="M166.75,363.28L170.75,370.08L162.75,370.08Z" stroke="#ff0000" stroke-width="0.8" fill="none"/>
<path d="M168.39,362.77L172.39,369.57L164.39,369.57Z" stroke="#ff0000" stroke-width="0.8" fill="none"/>
<path d="M169.48,367.01L173.48,373.81L165.48,373.81Z" stroke="#ff0000" stroke-width="0.8" fill="none"/>
<path d="M170.70,365.23L174.70,372.03L166.70,372.03Z" stroke="#ff0000" stroke-width="0.8" fill="none"/>
<path d="M171.37,366.57L175.37,373.37L167.37,373.37Z" stroke="#ff0000" stroke-width="0.8" fill="none"/>
<path d="M172.52,368.74L176.52,375.54L168.52,375.54Z" stroke="#ff0000" stroke-width="0.8" fill="none"/>
<path d="M173.66,366.17L177.66,372.97L169.66,372.97Z" stroke="#ff0000" stroke-width="0.8" fill="none"/>
<path d="M174.92,367.39L178.92,374.19L170.92,374.19Z" stroke="#ff0000" stroke-width="0.8" fill="none"/>
<path d="M175.75,368.87L179.75,375.67L171.75,375.67Z" stroke="#ff0000" stroke-width="0.8" fill="none"/>
<path d="M176.24,369.47L180.24,376.27L172.24,376.27Z" stroke="#ff0000" stroke-width="0.8" fill="none"/>
<path d="M177.98,368.65L181.98,375.45L173.98,375.45Z" stroke="#ff0000" stroke-width="0.8" fill="none"/>
<path d="M178.93,368.92L182.93,375.72L174.93,375.72Z" stroke="#ff0000" stroke-width="0.8" fill="none"/>
<path d="M179.69,369.63L183.69,376.43L175.69,376.43Z" stroke="#ff0000" stroke-width="0.8" fill="none"/>
<path d="M180.60,369.96L184.60,376.76L176.60,376.76Z" stroke="#ff0000" stroke-width="0.8" fill="none"/>
<path d="M182.28,370.17L186.28,376.97L178.28,376.97Z" stroke="#ff0000" stroke-width="0.8" fill="none"/>
<path d="M183.26,372.89L187.26,379.69L179.26,379.69Z" stroke="#ff0000" stroke-width="0.8" fill="none"/>
<path d="M184.66,369.72L188.66,376.52L180.66,376.52Z" stroke="#ff0000" stroke-width="0.8" fill="none"/>
<path d="M185.62,372.33L189.62,379.13L181.62,379.13Z" stroke="#ff0000" stroke-width="0.8" fill="none"/>
<path d="M185.95,371.63L189.95,378.43L181.95,378.43Z" stroke="#ff0000" stroke-width="0.8" fill="none"/>
<path d="M187.17,370.89L191.17,377.69L183.17,377.69Z" stroke="#ff0000" stroke-width="0.8" fill="none"/>
<path d="M188.49,375.20L192.49,382.00L184.49,382.00Z" stroke="#ff0000" stroke-width="0.8" fill="none"/>
<path d="M189.29,375.50L193.29,382.30L185.29,382.30Z" stroke="#ff0000" stroke-width="0.8" fill="none"/>
<path d="M190.68,372.83L194.68,379.63L186.68,379.63Z" stroke="#ff0000" stroke-width="0.8" fill="none"/>
<path d="M191.86,375.44L195.86,382.24L187.86,382.24Z" stroke="#ff0000" stroke-width="0.8" fill="none"/>
<path d="M194.43,387.49L198.43,380.69L190.43,380.69Z" stroke="#00bfbf" stroke-width="0.8" fill="none"/>
<path d="M195.27,386.44L199.27,379.64L191.27,379.64Z" stroke="#00bfbf" stroke-width="0.8" fill="none"/>
<path d="M196.37,389.80L200.37,383.00L192.37,383.00Z" stroke="#00bfbf" stroke-width="0.8" fill="none"/>
<path d="M197.45,388.18L201.45,381.38L193.45,381.38Z" stroke="#00bfbf" stroke-width="0.8" fill="none"/>
<path d="M198.38,389.05L202.38,382.25L194.38,382.25Z" stroke="#00bfbf" stroke-width="0.8" fill="none"/>
<path d="M198.76,387.67L202.76,380.87L194.76,380.87Z" stroke="#00bfbf" stroke-width="0.8" fill="none"/>
<path d="M199.76,389.05L203.76,382.25L195.76,382.25Z" stroke="#00bfbf" stroke-width="0.8" fill="none"/>
<path d="M200.87,391.07L204.87,384.27L196.87,384.27Z" stroke="#00bfbf" stroke-width="0.8" fill="none"/>
<path d="M202.44,391.92L206.44,385.12L198.44,385.12Z" stroke="#00bfbf" stroke-width="0.8" fill="none"/>
<path d="M203.19,393.09L207.19,386.29L199.19,386.29Z" stroke="#00bfbf" stroke-width="0.8" fill="none"/>
<path d="M204.10,392.89L208.10,386.09L200.10,386.09Z" stroke="#00bfbf" stroke-width="0.8" fill="none"/>
<path d="M205.59,393.25L209.59,386.45L201.59,386.45Z" stroke="#00bfbf" stroke-width="0.8" fill="none"/>
<path d="M206.06,396.17L210.06,389.37L202.06,389.37Z" stroke="#00bfbf" stroke-width="0.8" fill="none"/>
<path d="M207.65,394.34L211.65,387.54L203.65,387.54Z" stroke="#00bfbf" stroke-width="0.8" fill="none"/>
<path d="M208.35,395.72L212.35,388.92L204.35,388.92Z" stroke="#00bfbf" stroke-width="0.8" fill="none"/>
<path d="M209.62,394.94L213.62,388.14L205.62,388.14Z" stroke="#00bfbf" stroke-width="0.8" fill="none"/>
<path d="M210.07,395.50L214.07,388.70L206.07,388.70Z" stroke="#00bfbf" stroke-width="0.8" fill="none"/>
<path d="M211.90,395.83L215.90,389.03L207.90,389.03Z" stroke="#00bfbf" stroke-width="0.8" fill="none"/>
<path d="M212.62,396.70L216.62,389.90L208.62,389.90Z" stroke="#00bfbf" stroke-width="0.8" fill="none"/>
<path d="M213.42,397.21L217.42,390.41L209.42,390.41Z" stroke="#00bfbf" stroke-width="0.8" fill="none"/>
<path d="M214.66,397.83L218.66,391.03L210.66,391.03Z" stroke="#00bfbf" stroke-width="0.8" fill="none"/>
<path d="M215.40,398.04L219.40,391.24L211.40,391.24Z" stroke="#00bfbf" stroke-width="0.8" fill="none"/>
<path d="M216.68,400.23L220.68,393.43L212.68,393.43Z" stroke="#00bfbf" stroke-width="0.8" fill="none"/>
<path d="M217.71,398.52L221.71,391.72L213.71,391.72Z" stroke="#00bfbf" stroke-width="0.8" fill="none"/>
<path d="M219.24,400.73L223.24,393.93L215.24,393.93Z" stroke="#00bfbf" stroke-width="0.8" fill="none"/>
<path d="M220.63,399.52L224.63,392.72L216.63,392.72Z" stroke="#00bfbf" stroke-width="0.8" fill="none"/>
<path d="M221.47,401.55L225.47,394.75L217.47,394.75Z" stroke="#00bfbf" stroke-width="0.8" fill="none"/>
<path d="M222.24,404.61L226.24,397.81L218.24,397.81Z" stroke="#00bfbf" stroke-width="0.8" fill="none"/>
<path d="M223.57,401.04L227.57,394.24L219.57,394.24Z" stroke="#00bfbf" stroke-width="0.8" fill="none"/>
<path d="M224.96,401.80L228.96,395.00L220.96,395.00Z" stroke="#00bfbf" stroke-width="0.8" fill="none"/>
<path d="M226.25,403.07L230.25,396.27L222.25,396.27Z" stroke="#00bfbf" stroke-width="0.8" fill="none"/>
<path d="M226.89,402.16L230.89,395.36L222.89,395.36Z" stroke="#00bfbf" stroke-width="0.8" fill="none"/>
<path d="M228.63,403.64L232.63,396.84L224.63,396.84Z" stroke="#00bfbf" stroke-width="0.8" fill="none"/>
<path d="M229.81,404.99L233.81,398.19L225.81,398.19Z" stroke="#00bfbf" stroke-width="0.8" fill="none"/>
<path d="M231.08,404.72L235.08,397.92L227.08,397.92Z" stroke="#00bfbf" stroke-width="0.8" fill="none"/>
<path d="M231.52,405.04L235.52,398.24L227.52,398.24Z" stroke="#00bfbf" stroke-width="0.8" fill="none"/>
<path d="M233.20,407.19L237.20,400.39L229.20,400.39Z" stroke="#00bfbf" stroke-width="0.8" fill="none"/>
<path d="M233.86,405.21L237.86,398.41L229.86,398.41Z" stroke="#00bfbf" stroke-width="0.8" fill="none"/>
<path d="M235.32,409.72L239.32,402.92L231.32,402.92Z" stroke="#00bfbf" stroke-width="0.8" fill="none"/>
<path d="M236.35,405.76L240.35,398.96L232.35,398.96Z" stroke="#00bfbf" stroke-width="0.8" fill="none"/>
<path d="M236.91,406.64L240.91,399.84L232.91,399.84Z" stroke="#00bfbf" stroke-width="0.8" fill="none"/>
<path d="M238.17,406.87L242.17,400.07L234.17,400.07Z" stroke="#00bfbf" stroke-width="0.8" fill="none"/>
<path d="M216.40,409.30L220.20,402.84L212.60,402.84Z" stroke="#00bfbf" stroke-width="0.9" fill="none"/>
<rect x="246.39" y="402.65" width="5.5" height="5.5" stroke="#c42cc4" stroke-width="0.75" fill="none"/>
<rect x="247.92" y="403.16" width="5.5" height="5.5" stroke="#c42cc4" stroke-width="0.75" fill="none"/>
<rect x="248.82" y="405.57" width="5.5" height="5.5" stroke="#c42cc4" stroke-width="0.75" fill="none"/>
<rect x="249.61" y="408.36" width="5.5" height="5.5" stroke="#c42cc4" stroke-width="0.75" fill="none"/>
<rect x="250.69" y="407.69" width="5.5" height="5.5" stroke="#c42cc4" stroke-width="0.75" fill="none"/>
<rect x="251.12" y="410.82" width="5.5" height="5.5" stroke="#c42cc4" stroke-width="0.75" fill="none"/>
<rect x="252.57" y="411.11" width="5.5" height="5.5" stroke="#c42cc4" stroke-width="0.75" fill="none"/>
<rect x="253.36" y="414.44" width="5.5" height="5.5" stroke="#c42cc4" stroke-width="0.75" fill="none"/>
<rect x="254.52" y="414.60" width="5.5" height="5.5" stroke="#c42cc4" stroke-width="0.75" fill="none"/>
<rect x="255.64" y="417.00" width="5.5" height="5.5" stroke="#c42cc4" stroke-width="0.75" fill="none"/>
<rect x="257.05" y="417.33" width="5.5" height="5.5" stroke="#c42cc4" stroke-width="0.75" fill="none"/>
<rect x="258.35" y="419.98" width="5.5" height="5.5" stroke="#c42cc4" stroke-width="0.75" fill="none"/>
<rect x="259.92" y="420.66" width="5.5" height="5.5" stroke="#c42cc4" stroke-width="0.75" fill="none"/>
<rect x="261.57" y="421.21" width="5.5" height="5.5" stroke="#c42cc4" stroke-width="0.75" fill="none"/>
<rect x="262.73" y="421.91" width="5.5" height="5.5" stroke="#c42cc4" stroke-width="0.75" fill="none"/>
<rect x="264.60" y="423.61" width="5.5" height="5.5" stroke="#c42cc4" stroke-width="0.75" fill="none"/>
<rect x="265.76" y="423.85" width="5.5" height="5.5" stroke="#c42cc4" stroke-width="0.75" fill="none"/>
<rect x="267.69" y="426.04" width="5.5" height="5.5" stroke="#c42cc4" stroke-width="0.75" fill="none"/>
<rect x="269.29" y="426.46" width="5.5" height="5.5" stroke="#c42cc4" stroke-width="0.75" fill="none"/>
<rect x="270.76" y="426.79" width="5.5" height="5.5" stroke="#c42cc4" stroke-width="0.75" fill="none"/>
<rect x="272.55" y="427.43" width="5.5" height="5.5" stroke="#c42cc4" stroke-width="0.75" fill="none"/>
<rect x="273.93" y="430.39" width="5.5" height="5.5" stroke="#c42cc4" stroke-width="0.75" fill="none"/>
<rect x="275.70" y="429.66" width="5.5" height="5.5" stroke="#c42cc4" stroke-width="0.75" fill="none"/>
<rect x="276.99" y="432.54" width="5.5" height="5.5" stroke="#c42cc4" stroke-width="0.75" fill="none"/>
<rect x="278.93" y="433.61" width="5.5" height="5.5" stroke="#c42cc4" stroke-width="0.75" fill="none"/>
<rect x="280.68" y="433.54" width="5.5" height="5.5" stroke="#c42cc4" stroke-width="0.75" fill="none"/>
<rect x="282.28" y="435.33" width="5.5" height="5.5" stroke="#c42cc4" stroke-width="0.75" fill="none"/>
<rect x="283.40" y="435.43" width="5.5" height="5.5" stroke="#c42cc4" stroke-width="0.75" fill="none"/>
<rect x="284.44" y="436.87" width="5.5" height="5.5" stroke="#c42cc4" stroke-width="0.75" fill="none"/>
<rect x="286.11" y="437.72" width="5.5" height="5.5" stroke="#c42cc4" stroke-width="0.75" fill="none"/>
<path d="M294.26,440.25L297.96,443.95L294.26,447.65L290.56,443.95Z" stroke="#000000" stroke-width="0.9" fill="none"/>
<path d="M294.49,443.55L298.19,447.25L294.49,450.95L290.79,447.25Z" stroke="#000000" stroke-width="0.9" fill="none"/>
<path d="M295.24,445.25L298.94,448.95L295.24,452.65L291.54,448.95Z" stroke="#000000" stroke-width="0.9" fill="none"/>
<path d="M296.04,448.54L299.74,452.24L296.04,455.94L292.34,452.24Z" stroke="#000000" stroke-width="0.9" fill="none"/>
<path d="M297.56,450.00L301.26,453.70L297.56,457.40L293.86,453.70Z" stroke="#000000" stroke-width="0.9" fill="none"/>
<path d="M298.45,453.68L302.15,457.38L298.45,461.08L294.75,457.38Z" stroke="#000000" stroke-width="0.9" fill="none"/>
<path d="M299.61,455.45L303.31,459.15L299.61,462.85L295.91,459.15Z" stroke="#000000" stroke-width="0.9" fill="none"/>
<path d="M300.94,458.10L304.64,461.80L300.94,465.50L297.24,461.80Z" stroke="#000000" stroke-width="0.9" fill="none"/>
<path d="M302.26,460.45L305.96,464.15L302.26,467.85L298.56,464.15Z" stroke="#000000" stroke-width="0.9" fill="none"/>
<path d="M303.36,461.96L307.06,465.66L303.36,469.36L299.66,465.66Z" stroke="#000000" stroke-width="0.9" fill="none"/>
<path d="M304.23,464.16L307.93,467.86L304.23,471.56L300.53,467.86Z" stroke="#000000" stroke-width="0.9" fill="none"/>
<path d="M305.92,466.54L309.62,470.24L305.92,473.94L302.22,470.24Z" stroke="#000000" stroke-width="0.9" fill="none"/>
<path d="M306.79,469.88L310.49,473.58L306.79,477.28L303.09,473.58Z" stroke="#000000" stroke-width="0.9" fill="none"/>
<path d="M308.44,471.91L312.14,475.61L308.44,479.31L304.74,475.61Z" stroke="#000000" stroke-width="0.9" fill="none"/>
<path d="M309.87,473.45L313.57,477.15L309.87,480.85L306.17,477.15Z" stroke="#000000" stroke-width="0.9" fill="none"/>
<path d="M311.51,476.08L315.21,479.78L311.51,483.48L307.81,479.78Z" stroke="#000000" stroke-width="0.9" fill="none"/>
<path d="M313.35,477.95L317.05,481.65L313.35,485.35L309.65,481.65Z" stroke="#000000" stroke-width="0.9" fill="none"/>
<path d="M315.21,480.22L318.91,483.92L315.21,487.62L311.51,483.92Z" stroke="#000000" stroke-width="0.9" fill="none"/>
<path d="M316.73,481.69L320.43,485.39L316.73,489.09L313.03,485.39Z" stroke="#000000" stroke-width="0.9" fill="none"/>
<path d="M318.66,482.86L322.36,486.56L318.66,490.26L314.96,486.56Z" stroke="#000000" stroke-width="0.9" fill="none"/>
<text x="64.00" y="509.60" font-size="14.5" text-anchor="end" fill="#161616" >0.96</text>
<text x="64.00" y="469.40" font-size="14.5" text-anchor="end" fill="#161616" >0.97</text>
<text x="64.00" y="429.20" font-size="14.5" text-anchor="end" fill="#161616" >0.98</text>
<text x="64.00" y="389.00" font-size="14.5" text-anchor="end" fill="#161616" >0.99</text>
<text x="64.00" y="348.80" font-size="14.5" text-anchor="end" fill="#161616" >1</text>
<text x="62.00" y="308.60" font-size="14.5" text-anchor="end" fill="#161616" >1.01</text>
<text x="69.50" y="522.00" font-size="14.5" text-anchor="middle" fill="#161616" >0</text>
<text x="157.61" y="522.00" font-size="14.5" text-anchor="middle" fill="#161616" >500</text>
<text x="245.71" y="522.00" font-size="14.5" text-anchor="middle" fill="#161616" >1,000</text>
<text x="316.19" y="522.00" font-size="14.5" text-anchor="middle" fill="#161616" >1,400</text>
<text x="201" y="543.3" font-size="14.5" text-anchor="middle" fill="#161616"><tspan font-style="italic">t</tspan>–<tspan font-style="italic">t</tspan><tspan font-size="10" dy="4">0</tspan><tspan dy="-4"> (min)</tspan></text>
<text transform="translate(12.9,404) rotate(-90)" font-size="15.2" text-anchor="middle" fill="#161616" font-family='"Liberation Serif", serif'>Γ/Γ<tspan font-size="11" dy="5">0</tspan></text>
<text x="1.5" y="305.5" font-size="20" font-weight="bold" fill="#000">c</text>
<text x="72.30" y="325.50" font-size="14.5" text-anchor="start" fill="#161616" >393 K</text>
<text x="116.80" y="344.00" font-size="14.5" text-anchor="start" fill="#161616" >433 K</text>
<text x="161.80" y="362.70" font-size="14.5" text-anchor="start" fill="#161616" >453 K</text>
<text x="214.20" y="384.20" font-size="14.5" text-anchor="start" fill="#161616" >473 K</text>
<text x="268.70" y="419.50" font-size="14.5" text-anchor="start" fill="#161616" >493 K</text>
<text x="260.60" y="489.60" font-size="14.5" text-anchor="start" fill="#161616" >513 K</text>
<rect x="367.5" y="301.6" width="248.40" height="203.20" fill="none" stroke="#5c5c5c" stroke-width="1.2"/><path d="M429.60,504.8V502.3M429.60,301.6V304.1M491.70,504.8V502.3M491.70,301.6V304.1M553.80,504.8V502.3M553.80,301.6V304.1M367.5,454.00H370.0M615.9,454.00H613.4M367.5,403.25H370.0M615.9,403.25H613.4M367.5,352.50H370.0M615.9,352.50H613.4" stroke="#5c5c5c" stroke-width="1" fill="none"/>
<rect x="410.85" y="346.15" width="5.3" height="5.3" stroke="#1616d6" stroke-width="1.7" fill="none"/><path d="M411.9,348.8H415.1" stroke="#1616d6" stroke-width="1.1"/>
<rect x="435.55" y="326.75" width="5.3" height="5.3" stroke="#1616d6" stroke-width="1.7" fill="none"/><path d="M436.59999999999997,329.4H439.8" stroke="#1616d6" stroke-width="1.1"/>
<rect x="462.15" y="353.25" width="5.3" height="5.3" stroke="#1616d6" stroke-width="1.7" fill="none"/><path d="M464.8,353.7V358.09999999999997" stroke="#1616d6" stroke-width="1.1"/>
<rect x="491.15" y="370.45" width="5.3" height="5.3" stroke="#1616d6" stroke-width="1.7" fill="none"/><path d="M493.8,370.90000000000003V375.3" stroke="#1616d6" stroke-width="1.1"/>
<path d="M438.2,415.2V470.4M436.0,415.2H440.4M436.0,470.4H440.4" stroke="#0000ff" stroke-width="1.2" fill="none"/>
<circle cx="438.20" cy="442.40" r="3.6" stroke="#0000ff" stroke-width="1.3" fill="none"/>
<path d="M464.6,404.5V433.8M462.40000000000003,404.5H466.8M462.40000000000003,433.8H466.8" stroke="#0000ff" stroke-width="1.2" fill="none"/>
<circle cx="464.60" cy="419.50" r="3.6" stroke="#0000ff" stroke-width="1.3" fill="none"/>
<path d="M493.8,404.3V433.6M491.6,404.3H496.0M491.6,433.6H496.0" stroke="#0000ff" stroke-width="1.2" fill="none"/>
<circle cx="493.80" cy="418.80" r="3.6" stroke="#0000ff" stroke-width="1.3" fill="none"/>
<path d="M525.6,387V399.8M523.4,387H527.8000000000001M523.4,399.8H527.8000000000001" stroke="#0000ff" stroke-width="1.2" fill="none"/>
<circle cx="525.60" cy="393.50" r="3.6" stroke="#0000ff" stroke-width="1.3" fill="none"/>
<circle cx="438.20" cy="378.70" r="4.6" fill="#000"/>
<circle cx="464.70" cy="387.10" r="4.6" fill="#000"/>
<circle cx="493.80" cy="388.80" r="4.6" fill="#000"/>
<circle cx="525.60" cy="372.00" r="4.6" fill="#000"/>
<rect x="522.95" y="373.35" width="5.3" height="5.3" stroke="#1616d6" stroke-width="1.7" fill="none"/><path d="M525.6,373.8V378.2" stroke="#1616d6" stroke-width="1.1"/>
<path d="M438.2,362.9V378.2M436.2,362.9H440.2M436.2,378.2H440.2" stroke="#ff0000" stroke-width="1.1" fill="none"/>
<circle cx="438.20" cy="370.50" r="3.6" stroke="#ff0000" stroke-width="1.3" fill="none"/>
<path d="M464.7,375.7V389.7M462.7,375.7H466.7M462.7,389.7H466.7" stroke="#ff0000" stroke-width="1.1" fill="none"/>
<circle cx="464.70" cy="381.80" r="3.6" stroke="#ff0000" stroke-width="1.3" fill="none"/>
<path d="M493.8,388.3V401M491.8,388.3H495.8M491.8,401H495.8" stroke="#ff0000" stroke-width="1.1" fill="none"/>
<circle cx="493.80" cy="393.80" r="3.6" stroke="#ff0000" stroke-width="1.3" fill="none"/>
<path d="M525.6,377.5V390M523.6,377.5H527.6M523.6,390H527.6" stroke="#ff0000" stroke-width="1.1" fill="none"/>
<circle cx="525.60" cy="383.80" r="3.6" stroke="#ff0000" stroke-width="1.3" fill="none"/>
<path d="M598.6,362.7V396.5M596.4,362.7H600.8000000000001M596.4,396.5H600.8000000000001" stroke="#0000ff" stroke-width="1.2" fill="none"/>
<circle cx="598.60" cy="372.90" r="3.6" stroke="#0000ff" stroke-width="1.3" fill="none"/>
<circle cx="598.60" cy="379.90" r="3.6" stroke="#ff0000" stroke-width="1.3" fill="none"/>
<rect x="595.60" y="384.60" width="6.0" height="6.0" stroke="#0000ff" stroke-width="1.3" fill="none"/>
<path d="M598.6,370V390M597.1,370H600.1M597.1,390H600.1" stroke="#ff0000" stroke-width="1.0" fill="none"/>
<text x="621.50" y="509.25" font-size="14.5" text-anchor="start" fill="#161616" >7.5</text>
<text x="621.50" y="458.50" font-size="14.5" text-anchor="start" fill="#161616" >8</text>
<text x="621.50" y="407.75" font-size="14.5" text-anchor="start" fill="#161616" >8.5</text>
<text x="621.50" y="357.00" font-size="14.5" text-anchor="start" fill="#161616" >9</text>
<text x="621.50" y="306.25" font-size="14.5" text-anchor="start" fill="#161616" >9.5</text>
<text x="367.50" y="522.00" font-size="14.5" text-anchor="middle" fill="#161616" >1.8</text>
<text x="429.60" y="522.00" font-size="14.5" text-anchor="middle" fill="#161616" >2</text>
<text x="491.70" y="522.00" font-size="14.5" text-anchor="middle" fill="#161616" >2.2</text>
<text x="553.80" y="522.00" font-size="14.5" text-anchor="middle" fill="#161616" >2.4</text>
<text x="615.90" y="522.00" font-size="14.5" text-anchor="middle" fill="#161616" >2.6</text>
<text x="491.8" y="545.6" font-size="14.3" text-anchor="middle" fill="#161616">1,000/<tspan font-style="italic">T</tspan> (K<tspan font-size="10" dy="-5">−1</tspan><tspan dy="5">)</tspan></text>
<text transform="translate(663.6,406) rotate(-90)" font-size="14.5" text-anchor="middle" fill="#161616" letter-spacing="0.3">log <tspan font-size="10">τ</tspan> (s)</text>
<text x="347" y="304.6" font-size="20" font-weight="bold" fill="#000">d</text>
</svg>
</body></html>
